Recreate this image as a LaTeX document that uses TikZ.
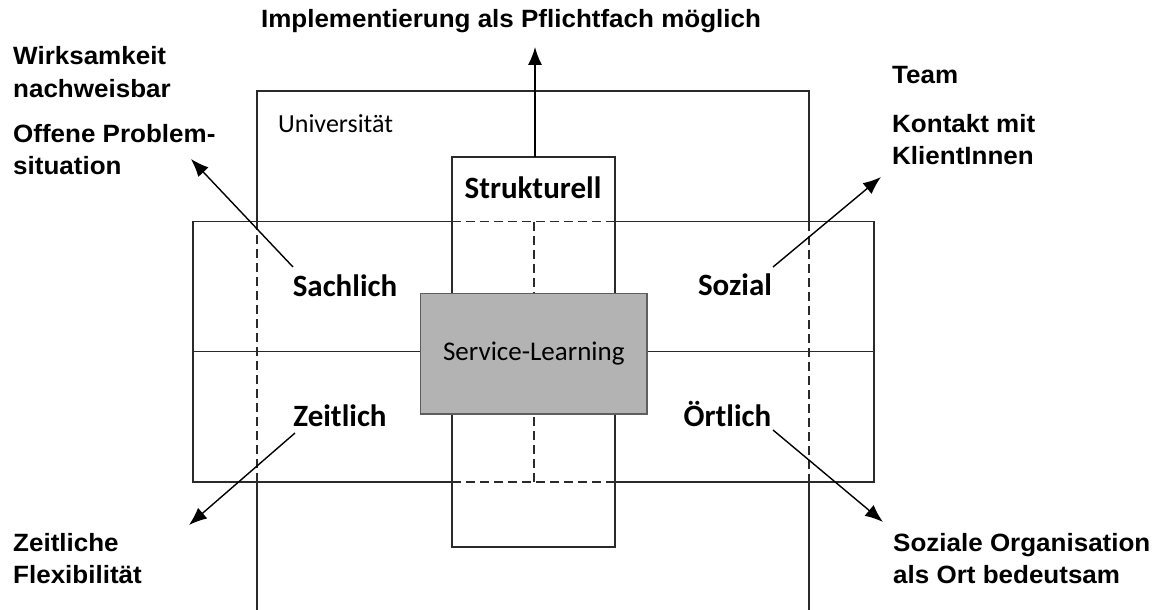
\documentclass[tikz,border=0pt]{standalone}
\usepackage{fontspec}
\usetikzlibrary{arrows.meta}
\newfontfamily\arialfont[FakeStretch=1.04]{Liberation Sans}
\newfontfamily\calfont{Carlito}
\definecolor{linec}{HTML}{2A2A2A}
\definecolor{boxfill}{HTML}{B3B3B3}
\definecolor{boxline}{HTML}{5E5E5E}
\tikzset{
  frame/.style={draw=linec, line width=1.3pt},
  dashframe/.style={draw=linec, line width=1.3pt, dash pattern=on 9pt off 5pt},
  outer/.style={inner sep=0pt, font=\arialfont\bfseries\fontsize{25}{32.5}\selectfont},
  dimlabel/.style={inner sep=0pt, anchor=base, font=\calfont\bfseries\fontsize{31}{36}\selectfont},
  arr/.style={draw=black, line width=1.4pt, -{Latex[length=18pt,width=14pt]}},
}
\newcommand{\lines}[1]{\begin{tabular}[t]{@{}l@{}}#1\end{tabular}}
\begin{document}
\begin{tikzpicture}[x=1pt,y=-1pt]
\useasboundingbox (0,0) rectangle (1170,610);
% Universitaet frame (open at bottom)
\draw[frame] (257,615) -- (257,482);
\draw[dashframe] (257,482) -- (257,221.7);
\draw[frame] (257,221.7) -- (257,91) -- (809,91) -- (809,221.7);
\draw[dashframe] (809,221.7) -- (809,482);
\draw[frame] (809,482) -- (809,615);
% horizontal rectangle
\draw[frame] (452,221.7) -- (193,221.7) -- (193,482) -- (452,482);
\draw[frame] (615,221.7) -- (874,221.7) -- (874,482) -- (615,482);
\draw[dashframe] (452,221.7) -- (615,221.7);
\draw[dashframe] (452,482) -- (615,482);
\draw[frame] (193,351.7) -- (874,351.7);
% vertical rectangle
\draw[frame] (452,157) rectangle (615,547);
\draw[dashframe] (534,221.7) -- (534,294);
\draw[dashframe] (534,482) -- (534,414);
% central box
\node[draw=boxline, fill=boxfill, line width=1.4pt, minimum width=226.3pt, minimum height=120.7pt, inner sep=0pt,
      font=\calfont\fontsize{27}{32}\selectfont] (sl) at (533.8,353.6) {Service-Learning};
% labels
\node[inner sep=0pt, anchor=base west, font=\calfont\fontsize{26}{30}\selectfont] (uni) at (278,132) {Universität};
\node[dimlabel] (struk) at (533,198) {Strukturell};
\node[dimlabel] (sach) at (345,296) {Sachlich};
\node[dimlabel] (soz) at (735,295) {Sozial};
\node[dimlabel] (zeit) at (340,426) {Zeitlich};
\node[dimlabel] (ort) at (727.5,426) {Örtlich};
% outer texts
\node[outer, anchor=base] (impl) at (511,28) {Implementierung als Pflichtfach möglich};
\node[outer, anchor=base west] (wirk) at (13,65) {\lines{Wirksamkeit\\nachweisbar}};
\node[outer, anchor=base west] (offen) at (13,142) {\lines{Offene Problem-\\situation}};
\node[outer, anchor=base west] (team) at (892,83) {Team};
\node[outer, anchor=base west] (kontakt) at (892,132) {\lines{Kontakt mit\\KlientInnen}};
\node[outer, anchor=base west] (zflex) at (13,551) {\lines{Zeitliche\\Flexibilität}};
\node[outer, anchor=base west] (sozorg) at (893,551) {\lines{Soziale Organisation\\als Ort bedeutsam}};
% arrow ends
\coordinate (strukS) at (535,157);
\coordinate (strukT) at (535,47);
\coordinate (sachS) at (293,267);
\coordinate (sachT) at (191,159);
\coordinate (sozS) at (773,267);
\coordinate (sozT) at (881,177);
\coordinate (zeitS) at (295,433);
\coordinate (zeitT) at (189,525);
\coordinate (ortS) at (773,430);
\coordinate (ortT) at (883,522);
\draw[arr] (strukS) -- (strukT);
\draw[arr] (sachS) -- (sachT);
\draw[arr] (sozS) -- (sozT);
\draw[arr] (zeitS) -- (zeitT);
\draw[arr] (ortS) -- (ortT);
\end{tikzpicture}
\end{document}
